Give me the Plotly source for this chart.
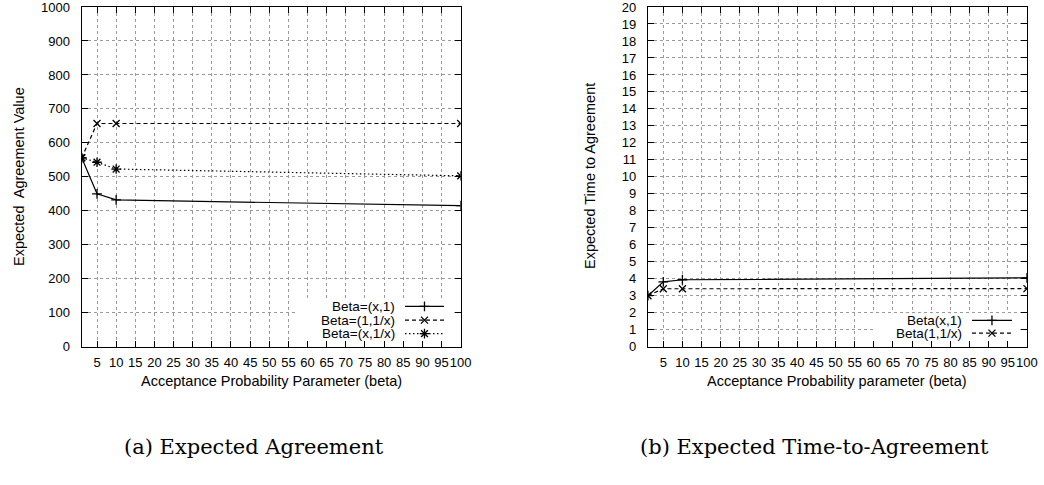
import plotly.graph_objects as go

# ---------------- data ----------------
beta_x = [1, 5, 10, 100]
agree_x1 = [556, 450, 432, 415]          # Beta=(x,1)
agree_1invx = [556, 657, 657, 657]       # Beta=(1,1/x)
agree_xinvx = [556, 543, 523, 503]       # Beta=(x,1/x)
time_x1 = [3.0, 3.82, 3.94, 4.05]        # Beta(x,1)
time_1invx = [3.0, 3.41, 3.41, 3.42]     # Beta(1,1/x)
x_ticks = list(range(5, 101, 5))
y_ticks_left = list(range(0, 1001, 100))
y_ticks_right = list(range(0, 21, 1))
left_names = ["Beta=(x,1)", "Beta=(1,1/x)", "Beta=(x,1/x)"]
right_names = ["Beta(x,1)", "Beta(1,1/x)"]

W, H = 1044, 485
FONT = "Liberation Sans, Arial, Helvetica, sans-serif"
SERIF = "DejaVu Serif, Liberation Serif, serif"
FS_TICK = 13
FS_LEG = 13.5
FS_TITLE = 14.5

# the captured picture shows the page slightly scaled/offset; map target
# picture pixels -> page pixels
SX, SY, OY = 0.9895, 0.968, 7.7


def lx(x):
    return x / SX


def ly(y):
    return max(0.0, (y - OY) / SY)


def px(x):
    return lx(x) / W


def py(y):
    return 1 - ly(y) / H


# target plot boxes (picture pixels)
LX0, LX1 = 81.7, 460.7
RX0, RX1 = 648.0, 1027.0
PY0, PY1 = 6.0, 347.0

styles = [
    dict(dash="solid", symbol="cross-thin-open", size=7),
    dict(dash="4px,3px", symbol="x-thin-open", size=7),
    dict(dash="1.5px,2.5px", symbol="asterisk-open", size=8),
]

fig = go.Figure()

for name, ys, st in zip(left_names, [agree_x1, agree_1invx, agree_xinvx], styles):
    fig.add_trace(go.Scatter(
        x=beta_x, y=ys, mode="lines+markers", name=name, showlegend=False,
        xaxis="x", yaxis="y",
        line=dict(color="black", width=1.2, dash=st["dash"]),
        marker=dict(symbol=st["symbol"], size=st["size"], color="black",
                    line=dict(color="black", width=1.3)),
    ))
for name, ys, st in zip(right_names, [time_x1, time_1invx], styles):
    fig.add_trace(go.Scatter(
        x=beta_x, y=ys, mode="lines+markers", name=name, showlegend=False,
        xaxis="x2", yaxis="y2",
        line=dict(color="black", width=1.2, dash=st["dash"]),
        marker=dict(symbol=st["symbol"], size=st["size"], color="black",
                    line=dict(color="black", width=1.3)),
    ))

annotations = []


def add_legend(names, text_right, s0, s1, rows, box):
    bx0, bx1, by0, by1 = box
    fig.add_trace(go.Scatter(
        x=[lx(bx0), lx(bx1), lx(bx1), lx(bx0), lx(bx0)],
        y=[ly(by0), ly(by0), ly(by1), ly(by1), ly(by0)], mode="lines",
        fill="toself", fillcolor="white", line=dict(width=0, color="white"),
        xaxis="x3", yaxis="y3", showlegend=False, hoverinfo="skip"))
    for name, ry, st in zip(names, rows, styles):
        annotations.append(dict(x=px(text_right), y=py(ry), xref="paper", yref="paper",
                                text=name, showarrow=False, xanchor="right", yanchor="middle",
                                font=dict(family=FONT, size=FS_LEG, color="black")))
        fig.add_trace(go.Scatter(
            x=[lx(s0), lx(s1)], y=[ly(ry), ly(ry)], mode="lines", xaxis="x3", yaxis="y3",
            showlegend=False, hoverinfo="skip",
            line=dict(color="black", width=1.2, dash=st["dash"])))
        fig.add_trace(go.Scatter(
            x=[lx((s0 + s1) / 2)], y=[ly(ry)], mode="markers", xaxis="x3", yaxis="y3",
            showlegend=False, hoverinfo="skip",
            marker=dict(symbol=st["symbol"], size=st["size"], color="black",
                        line=dict(color="black", width=1.3))))


add_legend(left_names, 397, 405, 444, [306.7, 320.5, 334.0], (297, 452, 299.5, 341))
add_legend(right_names, 964, 972, 1012, [320.7, 333.5], (873, 1018, 313.5, 341))

annotations += [
    dict(x=px((LX0 + LX1) / 2), y=py(381), xref="paper", yref="paper", showarrow=False,
         text="Acceptance Probability Parameter (beta)", xanchor="center", yanchor="middle",
         font=dict(family=FONT, size=FS_TITLE, color="black")),
    dict(x=px((RX0 + RX1) / 2), y=py(381), xref="paper", yref="paper", showarrow=False,
         text="Acceptance Probability parameter (beta)", xanchor="center", yanchor="middle",
         font=dict(family=FONT, size=FS_TITLE, color="black")),
    dict(x=px(19), y=py((PY0 + PY1) / 2), xref="paper", yref="paper", showarrow=False,
         text="Expected  Agreement Value", textangle=-90, xanchor="center", yanchor="middle",
         font=dict(family=FONT, size=FS_TITLE, color="black")),
    dict(x=px(590), y=py((PY0 + PY1) / 2), xref="paper", yref="paper", showarrow=False,
         text="Expected Time to Agreement", textangle=-90, xanchor="center", yanchor="middle",
         font=dict(family=FONT, size=FS_TITLE, color="black")),
    dict(x=px(254), y=py(447), xref="paper", yref="paper", showarrow=False,
         text="(a) Expected Agreement", xanchor="center", yanchor="middle",
         font=dict(family=SERIF, size=21, color="black")),
    dict(x=px(815), y=py(447), xref="paper", yref="paper", showarrow=False,
         text="(b) Expected Time-to-Agreement", xanchor="center", yanchor="middle",
         font=dict(family=SERIF, size=21, color="black")),
]

common_x = dict(range=[1, 100], tickmode="array", tickvals=x_ticks,
                ticktext=[str(t) for t in x_ticks], tickangle=0,
                ticks="inside", ticklen=6, tickwidth=1, tickcolor="black",
                showline=True, linecolor="black", linewidth=1.2, mirror="ticks",
                showgrid=True, gridcolor="#9a9a9a", gridwidth=1, griddash="dot",
                zeroline=False, tickfont=dict(family=FONT, size=FS_TICK, color="black"),
                ticklabelstandoff=4, ticklabeloverflow="allow", fixedrange=True)
common_y = dict(ticks="inside", ticklen=6, tickwidth=1, tickcolor="black",
                showline=True, linecolor="black", linewidth=1.2, mirror="ticks",
                showgrid=True, gridcolor="#9a9a9a", gridwidth=1, griddash="dot",
                zeroline=False, tickfont=dict(family=FONT, size=FS_TICK, color="black"),
                ticklabelstandoff=8, ticklabeloverflow="allow", fixedrange=True,
                tickmode="array")

fig.update_layout(
    width=W, height=H, margin=dict(l=0, r=0, t=0, b=0),
    paper_bgcolor="white", plot_bgcolor="rgba(0,0,0,0)",
    showlegend=False,
    xaxis=dict(domain=[px(LX0), px(LX1)], anchor="y", **common_x),
    yaxis=dict(domain=[py(PY1), py(PY0)], anchor="x", range=[0, 1000],
               tickvals=y_ticks_left, **common_y),
    xaxis2=dict(domain=[px(RX0), px(RX1)], anchor="y2", **common_x),
    yaxis2=dict(domain=[py(PY1), py(PY0)], anchor="x2", range=[0, 20],
                tickvals=y_ticks_right, **common_y),
    xaxis3=dict(domain=[0, 1], anchor="y3", range=[0, W], visible=False, fixedrange=True),
    yaxis3=dict(domain=[0, 1], anchor="x3", range=[H, 0], visible=False, fixedrange=True),
    annotations=annotations,
)

fig.write_html("out.html")
